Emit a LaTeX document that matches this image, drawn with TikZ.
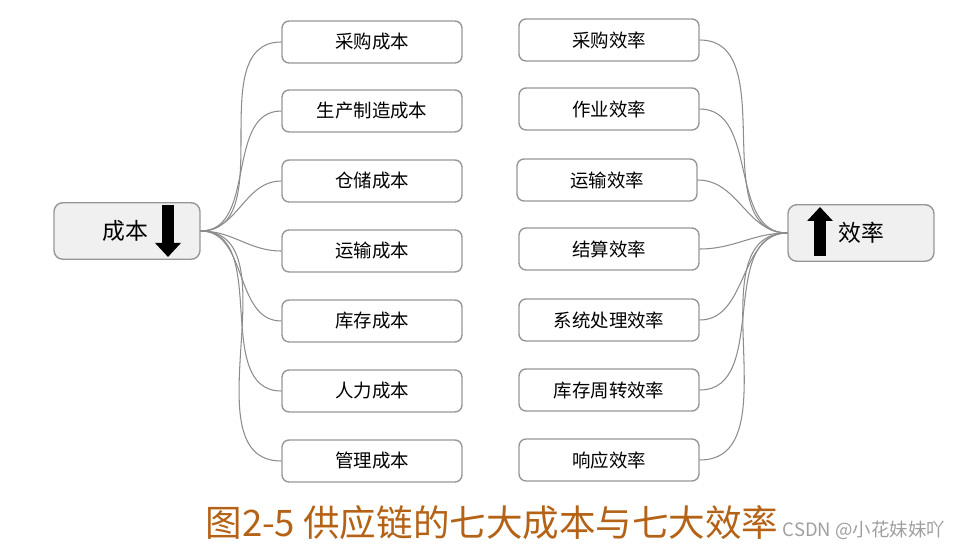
\documentclass[tikz,border=0pt]{standalone}
\usepackage{fontspec}
\usepackage{tikz}
\usetikzlibrary{arrows.meta,positioning}
\newfontfamily\cjk{Noto Sans CJK SC}
\definecolor{capbrown}{RGB}{180,98,22}
\definecolor{boxgray}{RGB}{150,150,150}
\definecolor{linegray}{RGB}{140,140,140}

\begin{document}
\begin{tikzpicture}[
    x=0.02cm, y=-0.02cm,
    item/.style={draw=boxgray, line width=0.8pt, rounded corners=4pt, align=center, minimum width=3.6cm, minimum height=0.84cm, font=\cjk\fontsize{10.5}{12}\selectfont},
    hub/.style={draw=boxgray, line width=0.8pt, rounded corners=5pt, fill=gray!12, minimum width=2.92cm, minimum height=1.13cm},
    link/.style={draw=linegray, line width=0.6pt},
    bigarrow/.style={line width=0.23cm, -{Triangle[width=0.5cm, length=0.28cm]}}
]
\useasboundingbox (0,0) rectangle (964,550);
% centre boxes
\node[hub] (cost) at (127,231) {};
\node[font=\cjk\fontsize{13}{15}\selectfont] (costtxt) at (125,231) {成本};
\draw[bigarrow] (168,205) -- (168,257);
\node[hub] (eff) at (861,233) {};
\node[font=\cjk\fontsize{13}{15}\selectfont] (efftxt) at (861,233) {效率};
\draw[bigarrow] (820,256) -- (820,207);
% seven costs
\node[item] (c1) at (372,42) {采购成本};
\node[item] (c2) at (372,111) {生产制造成本};
\node[item] (c3) at (372,181) {仓储成本};
\node[item] (c4) at (372,251) {运输成本};
\node[item] (c5) at (372,321) {库存成本};
\node[item] (c6) at (372,391) {人力成本};
\node[item] (c7) at (372,461) {管理成本};
% seven efficiencies
\node[item] (e1) at (609,40) {采购效率};
\node[item] (e2) at (609,109) {作业效率};
\node[item] (e3) at (607,180) {运输效率};
\node[item] (e4) at (609,249) {结算效率};
\node[item] (e5) at (609,320) {系统处理效率};
\node[item] (e6) at (609,390) {库存周转效率};
\node[item] (e7) at (609,460) {响应效率};
% connectors
\foreach \i in {1,...,7} {
  \draw[link] (cost.east) to[out=0, in=180] (c\i.west);
  \draw[link] (e\i.east) to[out=0, in=180] (eff.west);
}
% caption
\node[font=\cjk\fontsize{20.8}{24}\selectfont, text=capbrown] (caption) at (492,523) {图2-5 供应链的七大成本与七大效率};
\node[font=\cjk\fontsize{10.5}{12}\selectfont, text=gray!75] (mark) at (864,530) {CSDN @小花妹妹吖};
\end{tikzpicture}
\end{document}
